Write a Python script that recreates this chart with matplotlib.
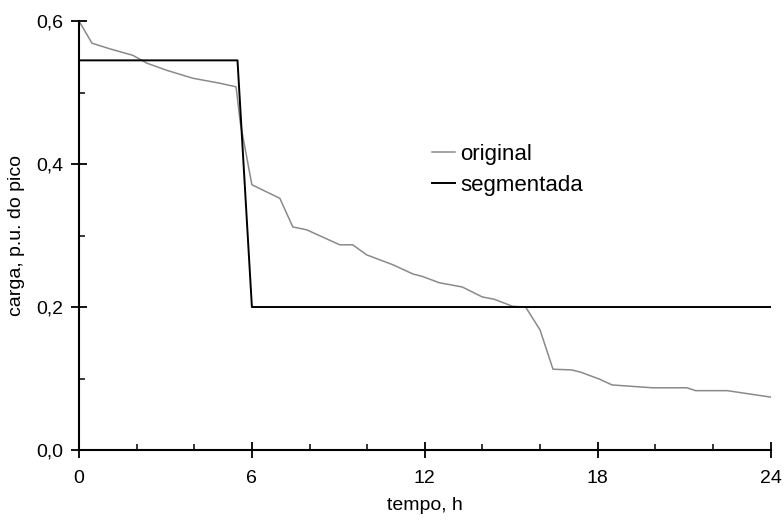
import matplotlib
matplotlib.use("Agg")
import matplotlib.pyplot as plt
from matplotlib.ticker import MultipleLocator, FuncFormatter

plt.rcParams['font.family'] = ['Liberation Sans', 'DejaVu Sans']

# curva original
orig_t = [0.0, 0.45, 1.08, 1.87, 2.36, 3.05, 3.95, 4.89, 5.45, 5.6, 6.0, 6.97,
          7.42, 7.9, 9.05, 9.5, 9.98, 10.9, 11.6, 11.9, 12.5, 13.3, 14.0, 14.4,
          15.05, 15.5, 16.0, 16.45, 17.1, 17.4, 18.07, 18.5, 19.9, 21.1, 21.4,
          22.5, 24.0]
orig_v = [0.600, 0.569, 0.561, 0.552, 0.541, 0.531, 0.520, 0.513, 0.508, 0.457,
          0.371, 0.352, 0.312, 0.308, 0.287, 0.287, 0.273, 0.259, 0.246, 0.243,
          0.234, 0.228, 0.214, 0.211, 0.201, 0.200, 0.168, 0.113, 0.112, 0.109,
          0.099, 0.091, 0.087, 0.087, 0.083, 0.083, 0.074]

# curva segmentada
seg_t = [0.0, 5.5, 6.0, 24.0]
seg_v = [0.545, 0.545, 0.200, 0.200]

fig = plt.figure(figsize=(7.84, 5.26), dpi=100)
ax = fig.add_axes([0.1008, 0.1445, 0.8820, 0.8155])

ax.plot(orig_t, orig_v, color='#8a8a8a', lw=1.1, label='original')
ax.plot(seg_t, seg_v, color='black', lw=1.4, label='segmentada')

ax.set_xlim(0, 24)
ax.set_ylim(0, 0.6)
ax.xaxis.set_major_locator(MultipleLocator(6))
ax.xaxis.set_minor_locator(MultipleLocator(2))
ax.yaxis.set_major_locator(MultipleLocator(0.2))
ax.yaxis.set_minor_locator(MultipleLocator(0.1))
ax.yaxis.set_major_formatter(FuncFormatter(lambda v, p: f"{v:.1f}".replace('.', ',')))

for s in ['top', 'right']:
    ax.spines[s].set_visible(False)
for s in ['left', 'bottom']:
    ax.spines[s].set_linewidth(1.5)

ax.tick_params(which='major', direction='inout', length=11, width=1.3,
               labelsize=14, pad=6)
ax.tick_params(axis='x', which='major', pad=9)
ax.tick_params(which='minor', direction='in', length=4, width=1.1)

ax.set_xlabel('tempo, h', fontsize=14, labelpad=7)
ax.set_ylabel('carga, p.u. do pico', fontsize=14, labelpad=8)

ax.legend(loc='upper left', bbox_to_anchor=(0.497, 0.735), frameon=False,
          fontsize=16, handlelength=1.05, handletextpad=0.25, labelspacing=0.45,
          borderaxespad=0)

fig.savefig('out.png', dpi=100)
